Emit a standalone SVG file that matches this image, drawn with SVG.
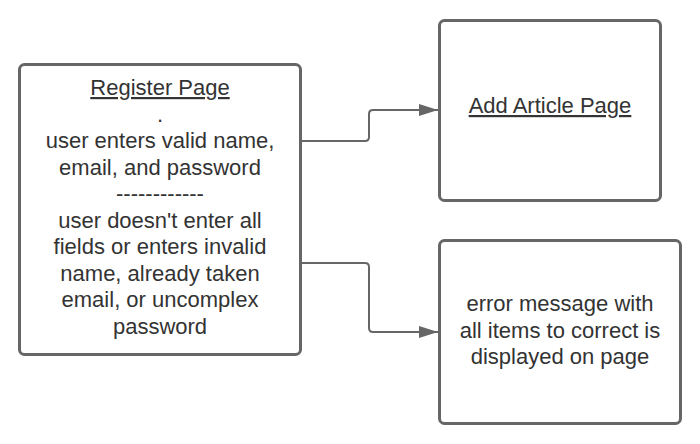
<svg xmlns="http://www.w3.org/2000/svg" width="700" height="444" viewBox="0 0 700 444">
<style>
.box{fill:#fff;stroke:#666;stroke-width:3}
.t{font-family:"Liberation Sans",Arial,sans-serif;font-size:22px;fill:#333;text-anchor:middle}
.u{text-decoration:underline}
.c{fill:none;stroke:#666;stroke-width:2}
</style>
<defs>
<marker id="arr" markerUnits="userSpaceOnUse" markerWidth="20" markerHeight="14" refX="19" refY="6" orient="auto" viewBox="0 0 20 12">
<path d="M0,0 L19,6 L0,12 Z" fill="#666"/>
</marker>
</defs>
<rect width="700" height="444" fill="#fff"/>
<g id="connectors">
<path class="c" d="M300,141 H365 Q369,141 369,137 V114 Q369,110 373,110 H438" marker-end="url(#arr)"/>
<path class="c" d="M300,263 H365 Q369,263 369,267 V328 Q369,332 373,332 H438" marker-end="url(#arr)"/>
</g>
<g id="register">
<rect class="box" x="19.5" y="64.5" width="281" height="290" rx="5"/>
<text class="t"><tspan class="u" x="160" y="95">Register Page</tspan><tspan x="160" y="121.5">.</tspan><tspan x="160" y="148">user enters valid name,</tspan><tspan x="160" y="174.5">email, and password</tspan><tspan x="160" y="201">------------</tspan><tspan x="160" y="227.5">user doesn't enter all</tspan><tspan x="160" y="254">fields or enters invalid</tspan><tspan x="160" y="280.5">name, already taken</tspan><tspan x="160" y="307">email, or uncomplex</tspan><tspan x="160" y="333.5">password</tspan></text>
</g>
<g id="addArticle">
<rect class="box" x="439.5" y="20.5" width="221" height="180" rx="5"/>
<text class="t u" x="550" y="113">Add Article Page</text>
</g>
<g id="error">
<rect class="box" x="439.5" y="240.5" width="241" height="183" rx="5"/>
<text class="t"><tspan x="560" y="311">error message with</tspan><tspan x="560" y="337.5">all items to correct is</tspan><tspan x="560" y="364">displayed on page</tspan></text>
</g>
</svg>
